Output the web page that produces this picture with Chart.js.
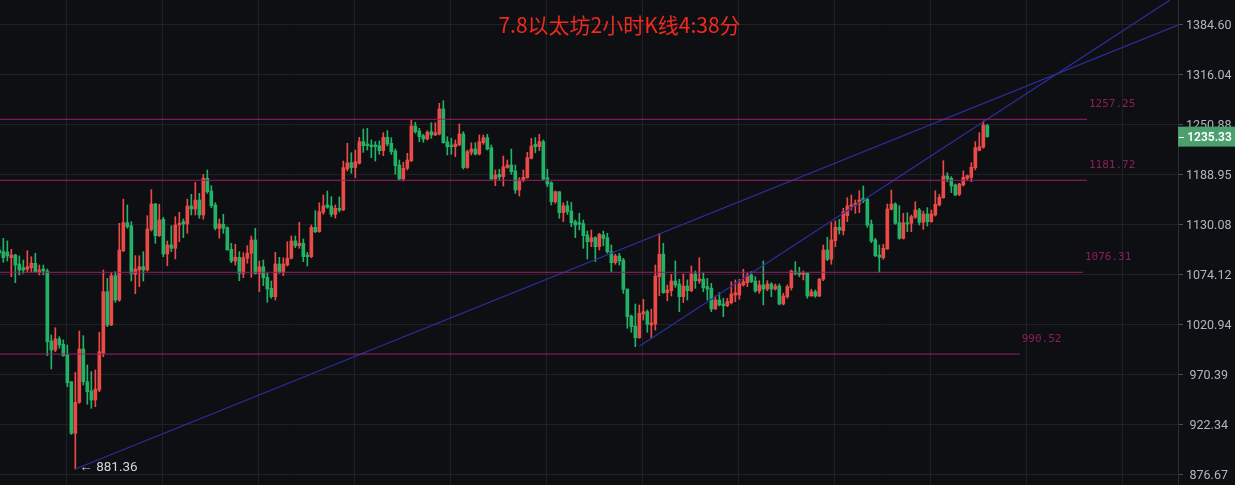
<!DOCTYPE html>
<html><head><meta charset="utf-8">
<script src="https://cdn.jsdelivr.net/npm/chart.js@4.4.1/dist/chart.umd.min.js"></script>
<style>html,body{margin:0;padding:0;background:#0e0f12;overflow:hidden}#wrap{width:1235px;height:485px;position:relative}</style>
</head><body><div id="wrap"><canvas id="c"></canvas></div>
<script>
const opens=[1101.0,1099.1,1098.7,1092.4,1095.4,1085.4,1081.3,1079.6,1081.3,1086.2,
1076.3,1079.9,1077.7,1003.7,994.6,1005.8,1000.4,990.3,963.1,913.9,
943.2,995.6,963.1,954.1,945.4,955.0,991.3,1055.3,1020.2,1072.6,
1046.4,1100.2,1131.9,1128.5,1074.1,1078.8,1082.4,1078.8,1124.0,1153.6,
1117.1,1135.8,1096.5,1106.6,1102.9,1129.3,1133.1,1130.4,1151.3,1147.8,
1158.3,1140.8,1184.1,1168.9,1152.5,1125.5,1130.1,1126.2,1101.7,1088.7,
1092.8,1075.2,1091.7,1097.3,1112.2,1075.2,1082.4,1070.8,1058.9,1050.0,
1085.4,1076.3,1084.3,1091.7,1111.1,1105.8,1108.5,1095.4,1093.5,1126.6,
1121.6,1143.9,1152.5,1151.3,1141.6,1148.6,1146.6,1195.4,1203.0,1197.1,
1202.3,1229.0,1226.1,1224.9,1224.9,1224.0,1217.8,1234.5,1227.0,1217.4,
1200.2,1183.3,1196.2,1205.5,1248.7,1242.4,1236.5,1232.3,1241.5,1237.4,
1238.6,1270.5,1229.0,1224.9,1222.7,1224.9,1238.6,1197.1,1215.8,1219.9,
1213.7,1227.7,1234.0,1221.5,1183.3,1188.95,1186.1,1197.1,1200.2,1193.0,
1170.1,1182.1,1184.9,1208.4,1225.7,1222.7,1229.0,1184.9,1178.8,1156.3,
1168.1,1143.5,1151.6,1145.4,1133.1,1131.9,1130.8,1117.9,1110.3,1114.8,
1104.7,1117.9,1114.8,1099.1,1086.9,1094.3,1089.8,1058.2,1029.6,1019.2,
1007.1,1031.7,1034.1,1020.2,1021.2,1071.5,1096.5,1054.2,1056.4,1066.8,
1063.6,1050.0,1061.4,1056.4,1074.4,1066.8,1069.0,1060.7,1058.9,1036.9,
1046.4,1042.2,1040.4,1043.6,1051.8,1051.8,1062.5,1065.0,1073.4,1066.8,
1056.1,1062.5,1058.2,1063.6,1058.2,1061.4,1042.2,1050.0,1059.6,1077.0,
1075.9,1074.1,1075.2,1050.7,1055.3,1050.7,1068.7,1101.0,1090.6,1111.4,
1126.6,1122.8,1140.0,1151.3,1152.2,1153.6,1160.4,1159.1,1130.4,1112.2,
1095.4,1092.4,1102.1,1147.4,1153.6,1131.9,1114.1,1131.9,1131.2,1138.2,
1146.6,1132.4,1142.0,1133.1,1140.8,1152.5,1161.0,1186.9,1184.1,1176.1,
1165.0,1176.1,1184.1,1185.3,1197.1,1218.3,1222.0,1249.1];
const highs=[1104.3,1114.1,1111.1,1101.7,1096.2,1094.3,1089.8,1100.2,1093.5,1097.3,
1084.3,1084.3,1079.9,1009.9,1017.4,1008.2,1004.8,999.7,963.1,972.4,
1014.0,1009.2,979.6,973.0,974.6,1012.7,1078.8,1069.8,1076.3,1077.0,
1131.2,1159.3,1152.5,1133.1,1094.6,1094.6,1099.1,1140.0,1170.5,1154.4,
1153.3,1138.1,1111.1,1128.5,1138.9,1143.9,1136.2,1159.3,1165.0,1179.3,
1166.2,1188.95,1194.2,1175.3,1155.1,1136.2,1141.6,1127.3,1108.5,1107.4,
1099.1,1098.0,1105.8,1116.7,1125.5,1088.7,1089.8,1075.2,1066.8,1098.4,
1092.8,1092.4,1110.3,1116.7,1116.7,1132.4,1113.3,1098.4,1129.3,1145.8,
1155.1,1164.2,1168.9,1162.2,1152.5,1161.9,1205.1,1227.0,1215.3,1218.6,
1234.5,1245.0,1245.8,1231.1,1229.0,1229.9,1240.3,1242.8,1234.0,1219.9,
1206.3,1203.5,1214.6,1256.3,1253.4,1245.8,1238.2,1242.8,1252.9,1252.9,
1277.8,1281.2,1235.2,1233.2,1231.1,1251.3,1241.5,1218.6,1227.7,1227.7,
1237.4,1237.4,1238.2,1224.9,1194.2,1195.0,1211.2,1206.3,1219.9,1200.2,
1184.9,1194.2,1215.8,1233.2,1234.0,1238.2,1231.1,1195.0,1180.0,1168.9,
1168.1,1155.1,1157.1,1155.6,1135.0,1142.8,1135.0,1122.4,1123.6,1116.0,
1119.8,1122.4,1119.8,1106.6,1096.2,1097.3,1091.7,1058.2,1030.6,1042.2,
1041.2,1047.2,1035.9,1036.9,1084.3,1119.8,1108.5,1062.5,1074.1,1088.7,
1068.7,1074.4,1068.0,1083.2,1077.7,1092.4,1075.2,1069.8,1064.3,1050.7,
1054.2,1048.3,1048.3,1066.1,1068.0,1068.7,1079.6,1075.2,1077.0,1071.5,
1067.2,1088.7,1067.2,1065.0,1063.6,1063.6,1053.6,1062.5,1078.8,1088.0,
1081.8,1077.7,1075.9,1057.9,1057.1,1069.8,1106.6,1115.3,1132.4,1133.9,
1135.8,1148.6,1161.0,1164.2,1158.3,1169.3,1174.9,1160.2,1135.0,1114.1,
1106.6,1107.4,1153.6,1170.1,1155.1,1151.6,1142.8,1143.5,1140.8,1156.3,
1148.6,1145.4,1149.3,1146.6,1169.3,1165.0,1205.5,1190.9,1186.1,1177.3,
1178.1,1193.0,1188.1,1203.0,1229.0,1240.3,1255.1,1250.9];
const lows=[1094.3,1087.3,1088.7,1071.5,1065.0,1073.4,1075.2,1076.3,1076.3,1076.3,
1073.4,1073.4,988.9,975.6,992.9,996.4,988.3,958.2,913.0,881.36,
942.2,959.9,941.3,937.4,939.0,953.4,987.9,1018.5,1019.5,1044.0,
1045.1,1099.1,1125.5,1066.8,1053.2,1060.7,1066.8,1077.7,1122.4,1108.5,
1116.0,1093.5,1083.5,1099.1,1091.0,1110.3,1114.8,1119.8,1140.8,1140.8,
1137.0,1135.9,1166.2,1149.3,1123.6,1114.1,1119.8,1101.0,1086.9,1084.3,
1067.2,1070.4,1086.2,1070.8,1074.4,1055.3,1061.8,1044.0,1048.3,1046.4,
1075.2,1072.6,1083.2,1091.0,1103.5,1102.9,1088.0,1083.2,1092.4,1120.5,
1120.9,1141.6,1148.6,1138.9,1137.3,1144.3,1145.8,1193.0,1190.2,1184.9,
1201.4,1215.8,1218.6,1209.2,1205.1,1213.3,1211.6,1223.6,1213.3,1189.0,
1182.1,1180.9,1194.2,1204.3,1239.5,1229.0,1228.2,1231.1,1233.2,1236.5,
1237.4,1227.0,1212.5,1213.3,1210.4,1224.0,1195.3,1196.2,1212.5,1212.5,
1212.5,1225.7,1218.6,1182.5,1175.3,1182.1,1174.9,1196.2,1188.95,1166.2,
1163.0,1180.0,1184.1,1207.6,1215.3,1217.8,1182.1,1174.1,1152.5,1154.4,
1137.0,1133.1,1141.6,1127.3,1114.8,1123.6,1102.9,1091.0,1104.7,1088.0,
1101.0,1105.8,1097.3,1077.0,1085.1,1084.3,1053.6,1016.8,1012.7,998.0,
1006.5,1025.4,1012.7,1007.1,1015.0,1051.0,1053.6,1045.7,1050.7,1060.0,
1034.1,1043.6,1046.4,1055.3,1059.0,1064.3,1055.3,1046.4,1034.1,1036.6,
1040.1,1028.8,1039.4,1042.2,1044.7,1047.2,1061.4,1060.7,1065.0,1054.7,
1053.6,1041.2,1056.4,1050.0,1057.1,1041.2,1041.2,1048.3,1057.1,1073.4,
1071.5,1068.0,1048.3,1050.7,1049.3,1050.0,1067.2,1089.1,1085.1,1104.7,
1119.0,1117.9,1133.1,1146.6,1142.8,1143.5,1155.1,1126.6,1109.2,1093.5,
1076.3,1090.6,1101.7,1146.6,1130.1,1113.0,1113.3,1121.6,1121.6,1137.0,
1129.3,1124.3,1128.1,1132.4,1139.6,1151.3,1160.4,1180.0,1167.0,1163.4,
1163.4,1174.9,1181.2,1180.0,1194.2,1217.5,1220.8,1234.5];
const closes=[1097.6,1092.4,1094.3,1095.4,1084.3,1078.8,1078.8,1082.5,1086.2,1077.0,
1078.8,1077.7,1003.0,994.6,1005.8,999.7,988.9,962.1,913.9,943.2,
995.6,963.1,953.4,945.4,955.9,992.9,1055.3,1020.2,1072.6,1046.4,
1101.0,1131.9,1127.3,1075.2,1079.9,1082.4,1078.8,1124.7,1153.6,1117.1,
1135.0,1096.5,1106.6,1102.9,1129.3,1131.2,1130.4,1151.3,1147.8,1158.3,
1140.8,1184.1,1168.1,1151.6,1125.5,1130.4,1125.5,1101.0,1088.7,1092.8,
1075.2,1092.4,1097.3,1112.2,1075.2,1082.4,1070.4,1058.2,1050.0,1085.4,
1076.3,1085.4,1091.7,1111.1,1105.8,1108.5,1093.5,1093.5,1126.6,1121.6,
1144.6,1151.3,1149.8,1141.6,1148.6,1146.6,1197.0,1203.0,1197.1,1204.3,
1229.0,1224.0,1224.0,1222.7,1222.7,1217.8,1234.5,1226.1,1216.5,1199.4,
1183.3,1196.2,1206.3,1248.7,1241.5,1235.2,1232.3,1240.8,1237.4,1240.3,
1270.5,1227.7,1222.7,1222.7,1226.1,1238.6,1197.1,1216.5,1219.9,1213.7,
1229.0,1234.0,1219.9,1183.3,1188.1,1185.7,1198.1,1200.2,1192.1,1170.1,
1182.1,1185.3,1209.2,1223.6,1222.7,1229.0,1183.3,1177.3,1156.3,1168.1,
1143.5,1151.6,1144.6,1131.9,1129.3,1130.1,1117.1,1110.3,1114.8,1104.7,
1118.7,1114.1,1099.1,1086.9,1094.3,1088.7,1057.9,1028.8,1018.5,1007.1,
1032.4,1034.1,1020.9,1022.3,1072.3,1096.2,1054.2,1057.1,1066.8,1062.5,
1050.0,1061.4,1056.4,1074.4,1067.2,1069.0,1059.6,1058.2,1036.9,1046.4,
1041.2,1040.4,1044.7,1052.8,1054.2,1063.6,1066.1,1072.6,1066.1,1056.1,
1062.5,1058.2,1063.6,1058.2,1061.4,1042.2,1050.7,1060.7,1077.7,1075.2,
1074.1,1075.9,1050.7,1055.3,1050.7,1068.7,1101.0,1090.6,1112.2,1126.6,
1123.6,1144.6,1151.3,1152.5,1154.4,1158.3,1157.5,1129.3,1111.1,1094.6,
1092.8,1102.9,1147.8,1153.6,1131.2,1114.1,1131.9,1130.4,1138.9,1146.6,
1132.4,1142.0,1133.1,1142.0,1153.3,1161.5,1186.9,1183.3,1174.9,1164.2,
1177.3,1185.3,1187.3,1197.4,1221.5,1222.7,1250.0,1235.33];

const yTickValues=[876.67,922.34,970.39,1020.94,1074.12,1130.08,1188.95,1250.88,1316.04,1384.60];
const levels=[1257.25,1181.72,1076.31,990.52];
const levelEnds=[271.9,271.9,270.9,255.1];
const trendA=[{x:19,y:881.36},{x:294.67,y:1383.6}];
const trendB=[{x:160,y:998.4},{x:292.67,y:1419.2}];
const titleText='7.8以太坊2小时K线4:38分';

const X_MIN=0.1675, X_MAX=294.6675, Y_MIN=867.20, Y_MAX=1419.19;
const xGridStart=16.8, xGridStep=24, xGridCount=12;
const xGridTicks=Array.from({length:xGridCount},(_,k)=>xGridStart+k*xGridStep);

const RED='#ec4a47', GREEN='#22b366', BG='#0e0f12', GRID='#1f2125';
const LEVEL_LINE='#9c1f6a', LEVEL_TEXT='#8c1d60', TREND='#2b2f9e';

const idx=opens.map((_,i)=>i);
const candleColor=i=>closes[i]>=opens[i]?RED:GREEN;

const datasets=[];
levels.forEach((v,k)=>{
  datasets.push({type:'line',data:[{x:X_MIN-1,y:v},{x:levelEnds[k],y:v}],borderColor:LEVEL_LINE,borderWidth:1,pointRadius:0,order:1});
});
datasets.push({type:'line',data:trendA,borderColor:TREND,borderWidth:1.2,pointRadius:0,order:1});
datasets.push({type:'line',data:trendB,borderColor:TREND,borderWidth:1.2,pointRadius:0,order:1});
datasets.push({type:'bar',data:idx.map(i=>({x:i,y:[opens[i],closes[i]]})),barThickness:3,minBarLength:1,grouped:false,borderWidth:0,
  backgroundColor:c=>candleColor(c.dataIndex),order:2});
datasets.push({type:'bar',data:idx.map(i=>({x:i,y:[lows[i],highs[i]]})),barThickness:1,grouped:false,borderWidth:0,
  backgroundColor:c=>candleColor(c.dataIndex),order:3});

const overlay={
  id:'overlay',
  beforeDraw(chart){const c=chart.ctx;c.save();c.fillStyle=BG;c.fillRect(0,0,chart.width,chart.height);c.restore();},
  afterDraw(chart){
    const c=chart.ctx, xs=chart.scales.x, ys=chart.scales.y;
    c.save();
    c.font='11px "DejaVu Sans Mono"';c.fillStyle=LEVEL_TEXT;c.textAlign='left';c.textBaseline='middle';
    levels.forEach((v,k)=>{c.fillText(v.toFixed(2),xs.getPixelForValue(levelEnds[k])+2,ys.getPixelForValue(v)-15);});
    const lowVal=Math.min(...lows); const lowIdx=lows.indexOf(lowVal);
    c.font='13.5px Roboto';c.fillStyle='#d1d4dc';
    c.fillText('← '+lowVal.toFixed(2),xs.getPixelForValue(lowIdx)+4,ys.getPixelForValue(lowVal)-1);
    c.font='21px "Noto Sans CJK SC"';c.fillStyle='#ef2a20';c.textAlign='center';
    c.fillText(titleText,chart.width/2+2,25);
    const last=closes[closes.length-1]; const py=ys.getPixelForValue(last);
    c.fillStyle='#4c9f6e';c.fillRect(ys.left,py-10,ys.right-ys.left,20);
    c.strokeStyle='#ffffff';c.lineWidth=1;c.beginPath();c.moveTo(ys.left+1,Math.round(py)+0.5);c.lineTo(ys.left+6,Math.round(py)+0.5);c.stroke();
    c.font='600 12px Roboto';c.fillStyle='#ffffff';c.textAlign='center';
    c.fillText(last.toFixed(2),(ys.left+ys.right)/2+3,py+1);
    c.restore();
  }
};

new Chart(document.getElementById('c'),{
  type:'bar',
  data:{datasets},
  options:{
    responsive:true,maintainAspectRatio:false,animation:false,events:[],
    layout:{padding:0},
    plugins:{legend:{display:false},tooltip:{enabled:false},title:{display:false}},
    scales:{
      x:{type:'linear',min:X_MIN,max:X_MAX,offset:false,
        grid:{color:GRID,drawTicks:false,offset:false},border:{display:false},
        ticks:{display:false},
        afterBuildTicks:s=>{s.ticks=xGridTicks.map(v=>({value:v}));},
        afterFit:s=>{s.height=0;s.paddingLeft=0;s.paddingRight=0;}},
      y:{type:'logarithmic',position:'right',min:Y_MIN,max:Y_MAX,
        grid:{color:GRID,tickColor:'#4a4d55',tickLength:5},
        border:{display:true,color:'#2a2d34'},
        ticks:{color:'#b2b5be',font:{family:'Roboto',size:12.5},padding:3,crossAlign:'center',autoSkip:false,labelOffset:2,
          callback:v=>Number(v).toFixed(2)},
        afterBuildTicks:s=>{s.ticks=yTickValues.map(v=>({value:v}));},
        afterFit:s=>{s.width=57;s.paddingTop=0;s.paddingBottom=0;}}
    }
  },
  plugins:[overlay]
});
</script></body></html>
